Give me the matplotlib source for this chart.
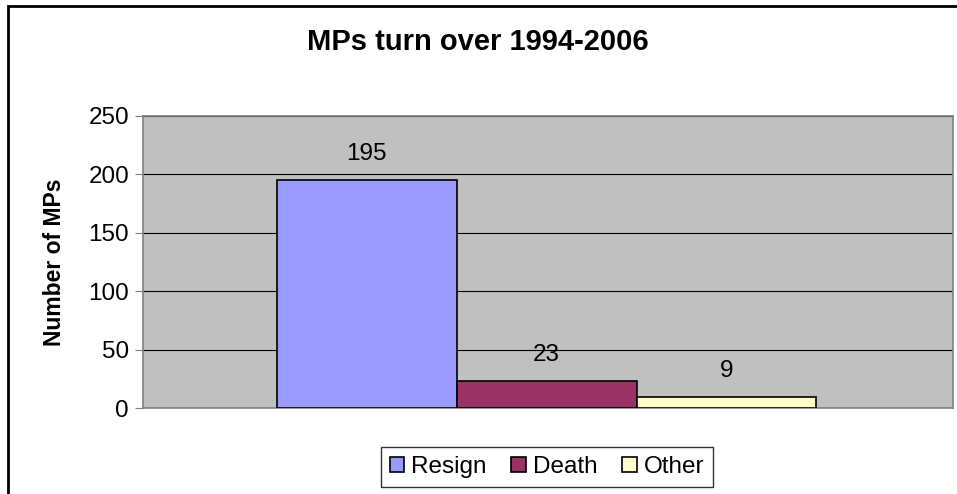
import matplotlib.pyplot as plt
from matplotlib.patches import Rectangle

categories = ['Resign', 'Death', 'Other']
counts = [195, 23, 9]
colors = ['#9999FF', '#993366', '#FFFFCC']

plt.rcParams['font.family'] = ['Liberation Sans', 'DejaVu Sans']

fig = plt.figure(figsize=(9.57, 4.94), dpi=100)
ax = fig.add_axes([143 / 957, 1 - 408 / 494, 810 / 957, 292 / 494])
ax.set_facecolor('#C0C0C0')

for i, (name, val, col) in enumerate(zip(categories, counts, colors)):
    ax.bar(i, val, width=1.0, color=col, edgecolor='black', linewidth=1.2,
           label=name, zorder=3)
    ax.annotate(str(val), (i, val), xytext=(0, 19), textcoords='offset points',
                ha='center', va='center', fontsize=17.5)

ax.set_xlim(-1.245, 3.26)
ax.set_ylim(0, 250)
ax.set_yticks(range(0, 251, 50))
ax.yaxis.grid(True, color='black', linewidth=0.8, zorder=0)
ax.set_axisbelow(True)
ax.set_xticks([])
ax.tick_params(axis='y', direction='out', length=6, width=0.8, color='#808080',
               labelsize=17.5, pad=4)
for side in ['top', 'right', 'left', 'bottom']:
    ax.spines[side].set_color('#808080')
    ax.spines[side].set_linewidth(1.2)

ax.set_ylabel('Number of MPs', fontsize=16.5, fontweight='bold', labelpad=16)
fig.text(478 / 957, 1 - 42 / 494, 'MPs turn over 1994-2006', ha='center',
         va='center', fontsize=21, fontweight='bold')

leg = fig.legend(loc='center', bbox_to_anchor=(547 / 957, 1 - 467 / 494), ncol=3,
                 fontsize=17.5, frameon=True, fancybox=False, edgecolor='black',
                 handlelength=0.6, handleheight=0.6, handletextpad=0.3,
                 columnspacing=1.0, borderpad=0.35)
leg.get_frame().set_linewidth(1.0)

# outer chart border (only top and left show in the crop)
fig.patches.append(Rectangle((8 / 957, -0.1), 1.2, 1 - 6 / 494 + 0.1,
                             transform=fig.transFigure, fill=False,
                             edgecolor='black', linewidth=2))

fig.savefig('out.png', dpi=100)
